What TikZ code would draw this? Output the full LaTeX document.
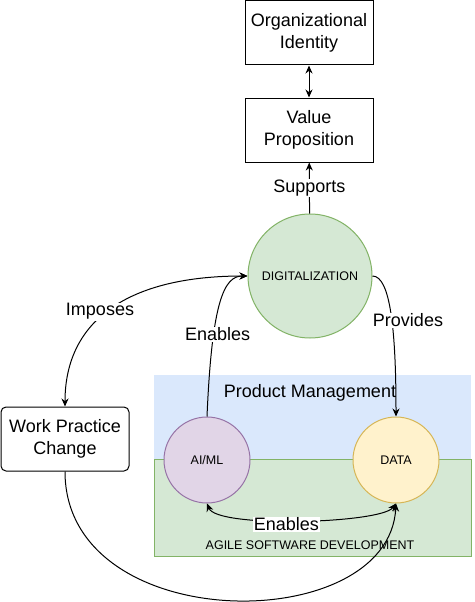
\documentclass[tikz,border=0pt]{standalone}
\usepackage{fontspec}
\setmainfont{Liberation Sans}
\usetikzlibrary{arrows.meta}
\definecolor{greenfill}{HTML}{D5E8D4}
\definecolor{greenline}{HTML}{82B366}
\definecolor{bluefill}{HTML}{DAE8FC}
\definecolor{purplefill}{HTML}{E1D5E7}
\definecolor{purpleline}{HTML}{9673A6}
\definecolor{yellowfill}{HTML}{FFF2CC}
\definecolor{yellowline}{HTML}{D6B656}
\newcommand{\bigtxt}{\fontsize{18}{22}\selectfont}
\newcommand{\smalltxt}{\fontsize{12.5}{15}\selectfont}

\begin{document}
\begin{tikzpicture}[x=1pt,y=-1pt,line width=1pt,>={Stealth[length=8pt,width=7pt]},
    box/.style={draw,align=center,minimum width=128pt,minimum height=64pt,inner sep=0pt,font=\bigtxt},
    bubble/.style={circle,minimum size=86pt,inner sep=0pt,font=\smalltxt},
    lbl/.style={fill=white,inner sep=1pt,font=\bigtxt}]
                \useasboundingbox (0,0) rectangle (474,602);

                \fill[bluefill] (154,375) rectangle (471,459);
                \draw[greenline,fill=greenfill] (154,459) rectangle (471,556);
                \node (pm)  at (310,393) {\bigtxt Product Management};
                \node (asd) at (310,545) {\smalltxt AGILE SOFTWARE DEVELOPMENT};

                \node[box] (orgid)   at (309,33)  {Organizational\\Identity};
                \node[box] (valprop) at (309,130) {Value\\Proposition};
                \node[box,rounded corners=5pt] (wpc) at (65,439) {Work Practice\\Change};

                \node[bubble,draw=greenline,fill=greenfill,minimum size=124pt] (digital) at (310,276) {DIGITALIZATION};
                \node[bubble,draw=purpleline,fill=purplefill] (aiml) at (207,460) {AI/ML};
                \node[bubble,draw=yellowline,fill=yellowfill] (data) at (396,460) {DATA};

                \draw[<->] (orgid) -- (valprop);
                \draw[->] (digital) -- (valprop) node[midway,lbl] {Supports};
                \draw[<->] (wpc.north) .. controls +(0,-87) and +(-118,0) .. (digital.west)
                    node[pos=0.5,lbl,xshift=-12pt,yshift=-3pt] {Imposes};
                \draw[->] (aiml.north) .. controls +(5,-117) and +(-23,0) .. (digital.west)
                    node[pos=0.3,lbl,xshift=4pt] {Enables};
                \draw[->] (digital.east) .. controls +(18,0) and +(0,-85) .. (data.north)
                    node[pos=0.5,lbl,xshift=17pt,yshift=-6pt] {Provides};
                \draw[<->] (aiml.south) .. controls +(10,25) and +(-15,20) .. (data.south)
                    node[pos=0.45,lbl,yshift=-4pt] {Enables};
                \draw[->] (wpc.south) .. controls +(0,166) and +(-7,134) .. (data.south);
            \end{tikzpicture}
\end{document}
